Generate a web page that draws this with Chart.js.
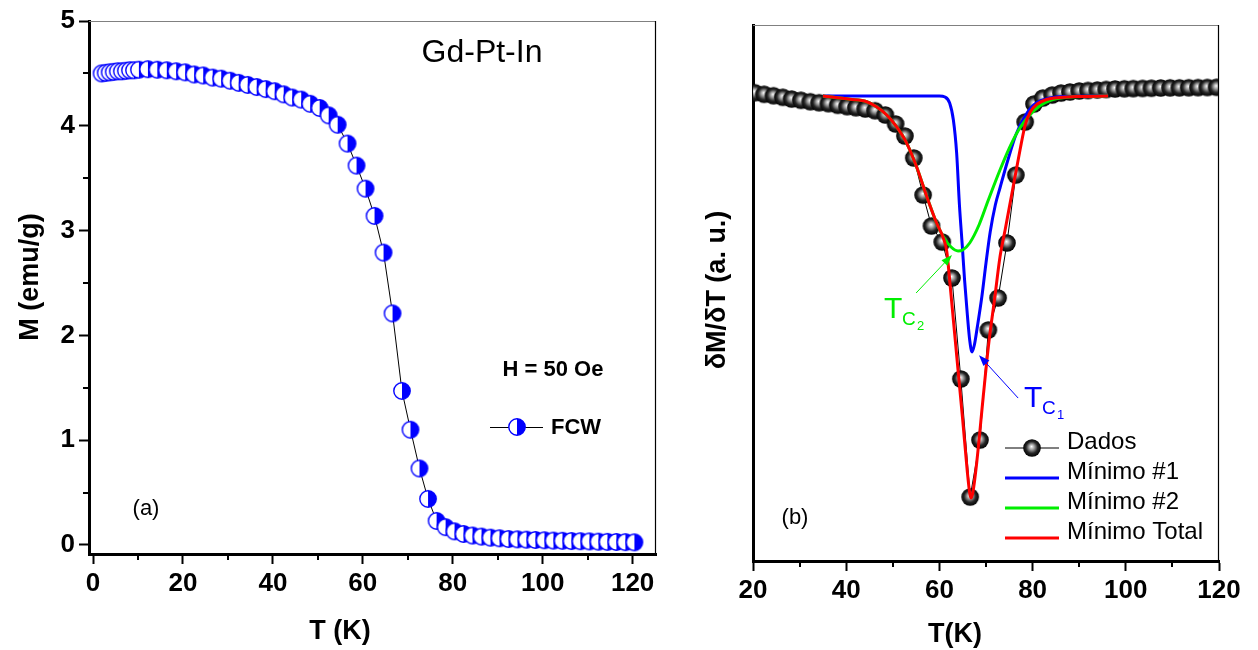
<!DOCTYPE html>
<html>
<head>
<meta charset="utf-8">
<script src="https://cdn.jsdelivr.net/npm/chart.js@4.4.1/dist/chart.umd.min.js"></script>
<style>
html, body { margin: 0; padding: 0; background: #fff; }
#wrap { position: relative; width: 1258px; height: 650px; overflow: hidden; }
canvas { position: absolute; top: 0; }
#chartA { left: 0; }
#chartB { left: 700px; }
</style>
</head>
<body>
<div id="wrap">
  <canvas id="chartA" width="700" height="650"></canvas>
  <canvas id="chartB" width="558" height="650"></canvas>
</div>
<script>
// ---------- (a) M x T  (FCW, H = 50 Oe)
const tempA = [1.9, 2.8, 3.7, 4.6, 5.5, 6.4, 7.3, 8.2, 9.1, 10.2,
  12.2, 14.3, 16.4, 18.5, 20.5, 22.5, 24.5, 26.6, 28.5, 30.5, 32.4, 34.4, 36.4, 38.4, 40.4, 42.4,
  44.3, 46.3, 48.3, 50.4, 52.4, 54.4, 56.6, 58.6, 60.6, 62.6, 64.6, 66.6, 68.7, 70.6, 72.6, 74.5, 76.4,
  78.4, 80.4, 82.4, 84.4, 86.4, 88.4, 90.4, 92.4, 94.4, 96.4, 98.4, 100.4, 102.4, 104.4, 106.4,
  108.4, 110.4, 112.4, 114.4, 116.4, 118.4, 120.4];
const magA = [4.50, 4.505, 4.51, 4.515, 4.52, 4.52, 4.525, 4.53, 4.53, 4.535,
  4.54, 4.535, 4.53, 4.52, 4.51, 4.49, 4.48, 4.46, 4.45, 4.43, 4.41, 4.39, 4.37, 4.35, 4.33, 4.30,
  4.27, 4.25, 4.21, 4.17, 4.10, 4.01, 3.83, 3.62, 3.40, 3.14, 2.79, 2.21, 1.47, 1.10, 0.73, 0.44, 0.23,
  0.17, 0.13, 0.105, 0.09, 0.08, 0.07, 0.064, 0.057, 0.054, 0.051, 0.048, 0.045, 0.042, 0.040, 0.038,
  0.036, 0.034, 0.032, 0.030, 0.029, 0.027, 0.025];

// ---------- (b) dM/dT (a. u.)
const tempB = [20.4, 22.4, 24.4, 26.4, 28.3, 30.3, 32.3, 34.2, 36.2, 38.2, 40.2, 42.1, 44.1, 46.2,
  48.4, 50.6, 52.6, 54.5, 56.5, 58.3, 60.6, 62.7, 64.6, 66.6, 68.7, 70.5, 72.6, 74.5, 76.4, 78.4,
  80.3, 82.2, 84.2, 86.1, 88.0, 90.0, 91.9, 93.9, 95.8, 97.7, 99.7, 101.6, 103.6, 105.5, 107.5,
  109.5, 111.5, 113.5, 115.5, 117.5, 119.5];
const dados = [87.37, 87.07, 86.81, 86.51, 86.19, 85.95, 85.69, 85.50, 85.32, 85.02, 84.76, 84.57, 84.33, 84.01,
  83.21, 81.53, 79.29, 75.19, 68.28, 62.50, 59.51, 52.80, 33.96, 11.94, 22.57, 43.10, 49.07, 59.33, 72.01, 81.90,
  85.26, 86.38, 86.94, 87.31, 87.50, 87.69, 87.78, 87.87, 87.97, 88.06, 88.10, 88.13, 88.17, 88.21, 88.25,
  88.27, 88.28, 88.30, 88.32, 88.34, 88.38];

const min1T = [35.0, 50.0, 60.0, 61.2, 62.2, 63.0, 63.7, 64.3, 64.9, 65.4, 66.0, 66.5, 67.0, 67.5, 68.1,
  69.1, 70.0, 70.9, 72.0, 73.0, 74.7, 76.4, 78.4, 80.5, 83.7, 88.0, 96.2];
const min1Y = [86.75, 86.75, 86.75, 86.57, 85.45, 82.28, 76.12, 66.42, 58.96, 52.43, 45.90, 41.23, 38.99, 40.30, 43.47,
  49.25, 55.60, 61.38, 66.42, 69.59, 74.81, 79.48, 83.02, 85.26, 86.38, 86.66, 86.75];

const min2T = [35.0, 40.8, 44.4, 46.5, 48.7, 50.8, 53.0, 55.1, 57.3, 59.4, 61.0, 62.5, 64.0, 65.0, 66.5,
  68.5, 70.5, 73.0, 75.0, 77.0, 79.0, 81.5, 84.0, 88.0, 96.2];
const min2Y = [86.75, 86.14, 85.69, 84.76, 83.21, 81.03, 77.93, 73.56, 67.97, 63.06, 60.26, 58.58, 57.84, 58.02, 59.33,
  62.69, 67.35, 72.95, 77.05, 80.41, 82.84, 84.89, 86.01, 86.57, 86.75];

const totT = [35.0, 40.8, 44.4, 46.5, 48.7, 50.8, 53.0, 55.1, 57.3, 59.4, 61.0, 61.6, 62.3, 63.0, 64.0,
  65.0, 66.0, 66.5, 66.8, 67.2, 68.0, 69.4, 70.5, 71.9, 73.0, 74.1, 75.5, 77.3, 78.4, 79.5, 81.0,
  83.0, 86.0, 90.0, 96.2];
const totY = [86.75, 86.14, 85.69, 84.76, 83.21, 81.03, 77.93, 73.56, 67.97, 63.06, 59.89, 57.65, 51.49, 44.96, 35.63,
  26.31, 16.60, 12.69, 11.75, 12.87, 18.28, 30.60, 39.93, 49.25, 56.72, 61.75, 68.28, 76.68, 81.34, 83.77, 85.26,
  86.10, 86.47, 86.66, 86.75];

const xTicksA = [0, 20, 40, 60, 80, 100, 120];
const xMinorA = [10, 30, 50, 70, 90, 110];
const yTicksA = [0, 1, 2, 3, 4, 5];
const yMinorA = [0.5, 1.5, 2.5, 3.5, 4.5];
const xTicksB = [20, 40, 60, 80, 100, 120];
const xMinorB = [30, 50, 70, 90, 110];

const FONT = "'Liberation Sans', Arial, Helvetica, sans-serif";
const BLUE = '#0000ff', GREEN = '#00ee00', RED = '#ff0000';

// markers
function halfCircle() {
  const c = document.createElement('canvas');
  c.width = 20; c.height = 20;
  const g = c.getContext('2d');
  g.beginPath(); g.arc(10, 10, 8.2, 0, Math.PI * 2); g.fillStyle = '#fff'; g.fill();
  g.beginPath(); g.arc(10, 10, 8.2, -Math.PI / 2, Math.PI / 2); g.closePath();
  g.fillStyle = BLUE; g.fill();
  g.beginPath(); g.arc(10, 10, 8.2, 0, Math.PI * 2);
  g.lineWidth = 1.4; g.strokeStyle = BLUE; g.stroke();
  return c;
}
function sphere() {
  const c = document.createElement('canvas');
  c.width = 20; c.height = 20;
  const g = c.getContext('2d');
  const grd = g.createRadialGradient(9.5, 8.5, 0, 10, 10, 9);
  grd.addColorStop(0, '#ffffff');
  grd.addColorStop(0.28, '#a8a8a8');
  grd.addColorStop(0.65, '#262626');
  grd.addColorStop(1, '#000000');
  g.beginPath(); g.arc(10, 10, 8.8, 0, Math.PI * 2); g.fillStyle = grd; g.fill();
  return c;
}
const halfImg = halfCircle();
const sphereImg = sphere();

// top/right frame, minor ticks and axis titles
const framePlugin = {
  id: 'frame',
  afterDraw(chart, args, opts) {
    const {ctx, chartArea: a, scales} = chart;
    ctx.save();
    ctx.lineWidth = 1.2;
    ctx.strokeStyle = '#808080';
    ctx.beginPath(); ctx.moveTo(a.left, a.top + 0.5); ctx.lineTo(a.right, a.top + 0.5); ctx.stroke();
    ctx.strokeStyle = '#000';
    ctx.beginPath(); ctx.moveTo(a.right - 0.5, a.top); ctx.lineTo(a.right - 0.5, a.bottom); ctx.stroke();
    ctx.lineWidth = 2;
    (opts.xMinor || []).forEach(v => {
      const px = Math.round(scales.x.getPixelForValue(v));
      ctx.beginPath(); ctx.moveTo(px, a.bottom); ctx.lineTo(px, a.bottom + 6); ctx.stroke();
    });
    (opts.yMinor || []).forEach(v => {
      const py = Math.round(scales.y.getPixelForValue(v));
      ctx.beginPath(); ctx.moveTo(a.left, py); ctx.lineTo(a.left - 6, py); ctx.stroke();
    });
    // axis titles
    ctx.fillStyle = '#000';
    ctx.font = 'bold 27px ' + FONT;
    ctx.textAlign = 'center'; ctx.textBaseline = 'middle';
    ctx.fillText(opts.xTitle, opts.xTitleAt[0], opts.xTitleAt[1]);
    ctx.translate(opts.yTitleAt[0], opts.yTitleAt[1]);
    ctx.rotate(-Math.PI / 2);
    ctx.fillText(opts.yTitle, 0, 0);
    ctx.restore();
  }
};

function arrow(ctx, x1, y1, x2, y2, color) {
  const ang = Math.atan2(y2 - y1, x2 - x1);
  ctx.strokeStyle = color; ctx.fillStyle = color; ctx.lineWidth = 1;
  ctx.beginPath(); ctx.moveTo(x1, y1); ctx.lineTo(x2 - 8 * Math.cos(ang), y2 - 8 * Math.sin(ang)); ctx.stroke();
  ctx.beginPath();
  ctx.moveTo(x2, y2);
  ctx.lineTo(x2 - 11 * Math.cos(ang) + 4 * Math.sin(ang), y2 - 11 * Math.sin(ang) - 4 * Math.cos(ang));
  ctx.lineTo(x2 - 11 * Math.cos(ang) - 4 * Math.sin(ang), y2 - 11 * Math.sin(ang) + 4 * Math.cos(ang));
  ctx.closePath(); ctx.fill();
}

function tc(ctx, x, y, sub, color) {
  ctx.fillStyle = color;
  ctx.textAlign = 'left'; ctx.textBaseline = 'alphabetic';
  ctx.font = '30px ' + FONT; ctx.fillText('T', x, y);
  ctx.font = '19px ' + FONT; ctx.fillText('C', x + 18, y + 7);
  ctx.font = '13px ' + FONT; ctx.fillText(sub, x + 33, y + 12);
}

const notesA = {
  id: 'notesA',
  afterDraw(chart) {
    const {ctx} = chart;
    ctx.save();
    ctx.fillStyle = '#000';
    ctx.textBaseline = 'middle';
    ctx.textAlign = 'center';
    ctx.font = '32px ' + FONT; ctx.fillText('Gd-Pt-In', 482, 53);
    ctx.font = '22px ' + FONT; ctx.fillText('(a)', 146, 509);
    ctx.font = 'bold 22px ' + FONT; ctx.fillText('H = 50 Oe', 553, 370);
    // legend
    ctx.strokeStyle = '#000'; ctx.lineWidth = 1;
    ctx.beginPath(); ctx.moveTo(490, 427.5); ctx.lineTo(543, 427.5); ctx.stroke();
    ctx.drawImage(halfImg, 507, 417);
    ctx.textAlign = 'left';
    ctx.fillText('FCW', 551, 428);
    ctx.restore();
  }
};

const notesB = {
  id: 'notesB',
  afterDraw(chart) {
    const {ctx, scales: {x, y}} = chart;
    ctx.save();
    ctx.fillStyle = '#000';
    ctx.textBaseline = 'middle'; ctx.textAlign = 'center';
    ctx.font = '22px ' + FONT; ctx.fillText('(b)', 95, 518);

    arrow(ctx, x.getPixelForValue(55.0), y.getPixelForValue(50.0),
      x.getPixelForValue(62.7), y.getPixelForValue(57.1), GREEN);
    tc(ctx, 184, 318, '2', GREEN);
    arrow(ctx, x.getPixelForValue(76.9), y.getPixelForValue(30.4),
      x.getPixelForValue(68.5), y.getPixelForValue(38.4), BLUE);
    tc(ctx, 324, 407, '1', BLUE);

    // legend
    const items = [
      {label: 'Dados', color: '#000', w: 1, marker: true},
      {label: 'Mínimo #1', color: BLUE, w: 3},
      {label: 'Mínimo #2', color: GREEN, w: 3},
      {label: 'Mínimo Total', color: RED, w: 3}
    ];
    ctx.font = '24px ' + FONT; ctx.textAlign = 'left';
    items.forEach((it, i) => {
      const ly = 448 + i * 30;
      ctx.strokeStyle = it.color; ctx.lineWidth = it.w;
      ctx.beginPath(); ctx.moveTo(305, ly); ctx.lineTo(359, ly); ctx.stroke();
      if (it.marker) ctx.drawImage(sphereImg, 322, ly - 10);
      ctx.fillStyle = '#000';
      ctx.fillText(it.label, 367, ly + 1);
    });
    ctx.restore();
  }
};

const axisFont = {family: FONT, size: 26, weight: 'bold'};
function gridOpts() {
  return {display: true, drawOnChartArea: false, drawTicks: true, tickLength: 10, tickWidth: 2, tickColor: '#000', color: '#000'};
}

new Chart(document.getElementById('chartA'), {
  type: 'line',
  data: {
    datasets: [{
      label: 'FCW',
      data: tempA.map((t, i) => ({x: t, y: magA[i]})),
      borderColor: '#000',
      borderWidth: 1,
      pointStyle: halfImg,
      pointRadius: 9,
      tension: 0
    }]
  },
  options: {
    responsive: false, animation: false, devicePixelRatio: 1,
    layout: {padding: {left: 0, top: 21, right: 44, bottom: 0}},
    plugins: {legend: {display: false}, tooltip: {enabled: false},
      frame: {xMinor: xMinorA, yMinor: yMinorA,
        xTitle: 'T (K)', xTitleAt: [340, 632], yTitle: 'M (emu/g)', yTitleAt: [31, 277]}},
    scales: {
      x: {
        type: 'linear', min: -0.9, max: 125.2,
        afterBuildTicks: s => { s.ticks = xTicksA.map(v => ({value: v})); },
        afterFit: s => { s.height = 96; },
        ticks: {color: '#000', font: axisFont, padding: 4, maxRotation: 0},
        grid: gridOpts(),
        border: {display: true, width: 3, color: '#000'}
      },
      y: {
        type: 'linear', min: -0.086, max: 5,
        afterBuildTicks: s => { s.ticks = yTicksA.map(v => ({value: v})); },
        afterFit: s => { s.width = 89; },
        ticks: {color: '#000', font: axisFont, padding: 4},
        grid: gridOpts(),
        border: {display: true, width: 3, color: '#000'}
      }
    }
  },
  plugins: [framePlugin, notesA]
});

new Chart(document.getElementById('chartB'), {
  type: 'line',
  data: {
    datasets: [
      {label: 'Dados', data: tempB.map((t, i) => ({x: t, y: dados[i]})),
        borderColor: '#000', borderWidth: 1, pointStyle: sphereImg, pointRadius: 9, tension: 0, order: 4},
      {label: 'Mínimo #1', data: min1T.map((t, i) => ({x: t, y: min1Y[i]})),
        borderColor: BLUE, borderWidth: 3, pointRadius: 0, cubicInterpolationMode: 'monotone', order: 3},
      {label: 'Mínimo #2', data: min2T.map((t, i) => ({x: t, y: min2Y[i]})),
        borderColor: GREEN, borderWidth: 3, pointRadius: 0, cubicInterpolationMode: 'monotone', order: 2},
      {label: 'Mínimo Total', data: totT.map((t, i) => ({x: t, y: totY[i]})),
        borderColor: RED, borderWidth: 3, pointRadius: 0, cubicInterpolationMode: 'monotone', order: 1}
    ]
  },
  options: {
    responsive: false, animation: false, devicePixelRatio: 1,
    layout: {padding: {left: 0, top: 25, right: 39, bottom: 0}},
    plugins: {legend: {display: false}, tooltip: {enabled: false},
      frame: {xMinor: xMinorB,
        xTitle: 'T(K)', xTitleAt: [255, 635], yTitle: 'δM/δT (a. u.)', yTitleAt: [18, 290]}},
    scales: {
      x: {
        type: 'linear', min: 20, max: 120,
        afterBuildTicks: s => { s.ticks = xTicksB.map(v => ({value: v})); },
        afterFit: s => { s.height = 89; },
        ticks: {color: '#000', font: axisFont, padding: 4, maxRotation: 0},
        grid: gridOpts(),
        border: {display: true, width: 3, color: '#000'}
      },
      y: {
        type: 'linear', min: 0, max: 100,
        afterFit: s => { s.width = 53; },
        ticks: {display: false},
        grid: {display: false},
        border: {display: true, width: 3, color: '#000'}
      }
    }
  },
  plugins: [framePlugin, notesB]
});
</script>
</body>
</html>
